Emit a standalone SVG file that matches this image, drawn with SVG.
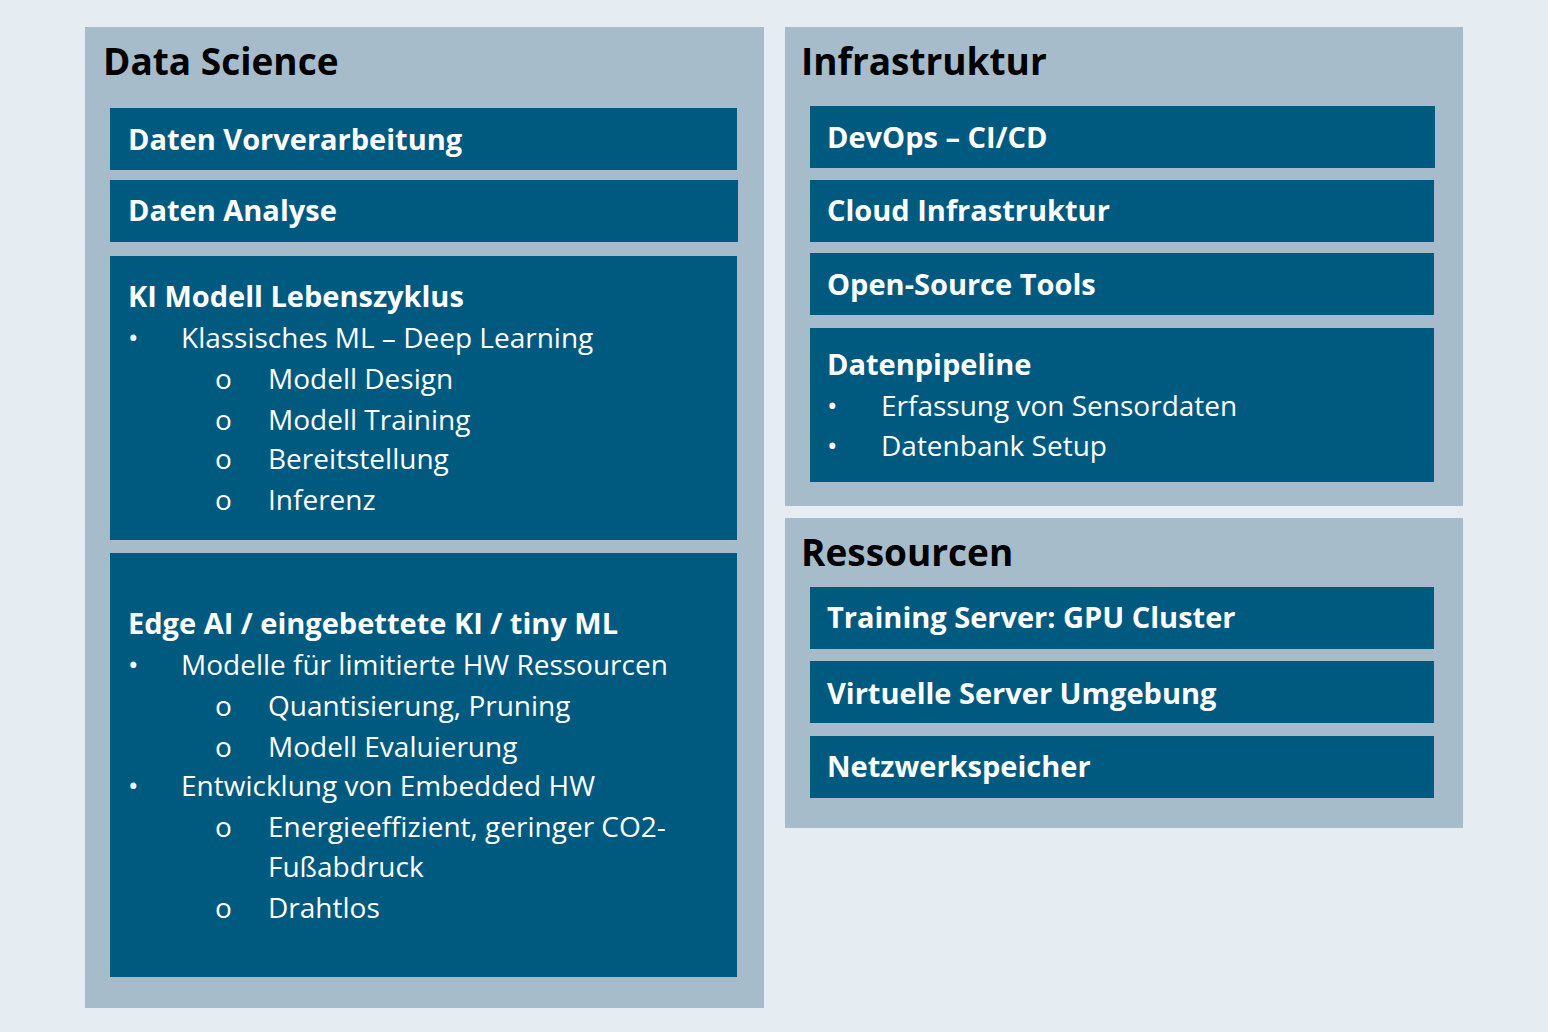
<svg xmlns="http://www.w3.org/2000/svg" width="1548" height="1032" viewBox="0 0 1548 1032">
<style>
.p{fill:#a7bccb}
.b{fill:#005a80}
.t{font-family:"Open Sans","Liberation Sans",sans-serif;font-weight:700;font-size:37px;fill:#000}
.h{font-family:"Open Sans","Liberation Sans",sans-serif;font-weight:700;font-size:29px;fill:#fff}
.r{font-family:"Open Sans","Liberation Sans",sans-serif;font-size:28px;fill:#fff}
</style>
<rect width="1548" height="1032" fill="#e5edf3"/>
<g id="data-science">
<rect class="p" x="85" y="27" width="679" height="981"/>
<text class="t" x="103" y="75">Data Science</text>
<g id="vorverarbeitung"><rect class="b" x="110" y="108" width="627" height="62"/><text class="h" x="128" y="150">Daten Vorverarbeitung</text></g>
<g id="analyse"><rect class="b" x="110" y="180" width="628" height="62"/><text class="h" x="128" y="221">Daten Analyse</text></g>
<g id="ki-modell"><rect class="b" x="110" y="256" width="627" height="284"/>
<text class="h" x="128" y="307">KI Modell Lebenszyklus</text>
<text class="r" x="128" y="348">•</text><text class="r" x="181" y="348">Klassisches ML – Deep Learning</text>
<text class="r" x="215" y="389">o</text><text class="r" x="268" y="389">Modell Design</text>
<text class="r" x="215" y="430">o</text><text class="r" x="268" y="430">Modell Training</text>
<text class="r" x="215" y="469">o</text><text class="r" x="268" y="469">Bereitstellung</text>
<text class="r" x="215" y="510">o</text><text class="r" x="268" y="510">Inferenz</text>
</g>
<g id="edge-ai"><rect class="b" x="110" y="553" width="627" height="424"/>
<text class="h" x="128" y="634">Edge AI / eingebettete KI / tiny ML</text>
<text class="r" x="128" y="675">•</text><text class="r" x="181" y="675">Modelle für limitierte HW Ressourcen</text>
<text class="r" x="215" y="716">o</text><text class="r" x="268" y="716">Quantisierung, Pruning</text>
<text class="r" x="215" y="757">o</text><text class="r" x="268" y="757">Modell Evaluierung</text>
<text class="r" x="128" y="796">•</text><text class="r" x="181" y="796">Entwicklung von Embedded HW</text>
<text class="r" x="215" y="837">o</text><text class="r" x="268" y="837">Energieeffizient, geringer CO2-</text>
<text class="r" x="268" y="877">Fußabdruck</text>
<text class="r" x="215" y="918">o</text><text class="r" x="268" y="918">Drahtlos</text>
</g>
</g>
<g id="infrastruktur">
<rect class="p" x="785" y="27" width="678" height="479"/>
<text class="t" x="801" y="75">Infrastruktur</text>
<g id="devops"><rect class="b" x="810" y="106" width="625" height="62"/><text class="h" x="827" y="148">DevOps – CI/CD</text></g>
<g id="cloud"><rect class="b" x="810" y="180" width="624" height="62"/><text class="h" x="827" y="221">Cloud Infrastruktur</text></g>
<g id="opensource"><rect class="b" x="810" y="253" width="624" height="62"/><text class="h" x="827" y="295">Open-Source Tools</text></g>
<g id="datenpipeline"><rect class="b" x="810" y="328" width="624" height="154"/>
<text class="h" x="827" y="375">Datenpipeline</text>
<text class="r" x="827" y="416">•</text><text class="r" x="881" y="416">Erfassung von Sensordaten</text>
<text class="r" x="827" y="456">•</text><text class="r" x="881" y="456">Datenbank Setup</text>
</g>
</g>
<g id="ressourcen">
<rect class="p" x="785" y="518" width="678" height="310"/>
<text class="t" x="801" y="566">Ressourcen</text>
<g id="gpu"><rect class="b" x="810" y="587" width="624" height="62"/><text class="h" x="827" y="628">Training Server: GPU Cluster</text></g>
<g id="virtuell"><rect class="b" x="810" y="661" width="624" height="62"/><text class="h" x="827" y="704">Virtuelle Server Umgebung</text></g>
<g id="nas"><rect class="b" x="810" y="736" width="624" height="62"/><text class="h" x="827" y="777">Netzwerkspeicher</text></g>
</g>
<g id="connectors"/>
</svg>
